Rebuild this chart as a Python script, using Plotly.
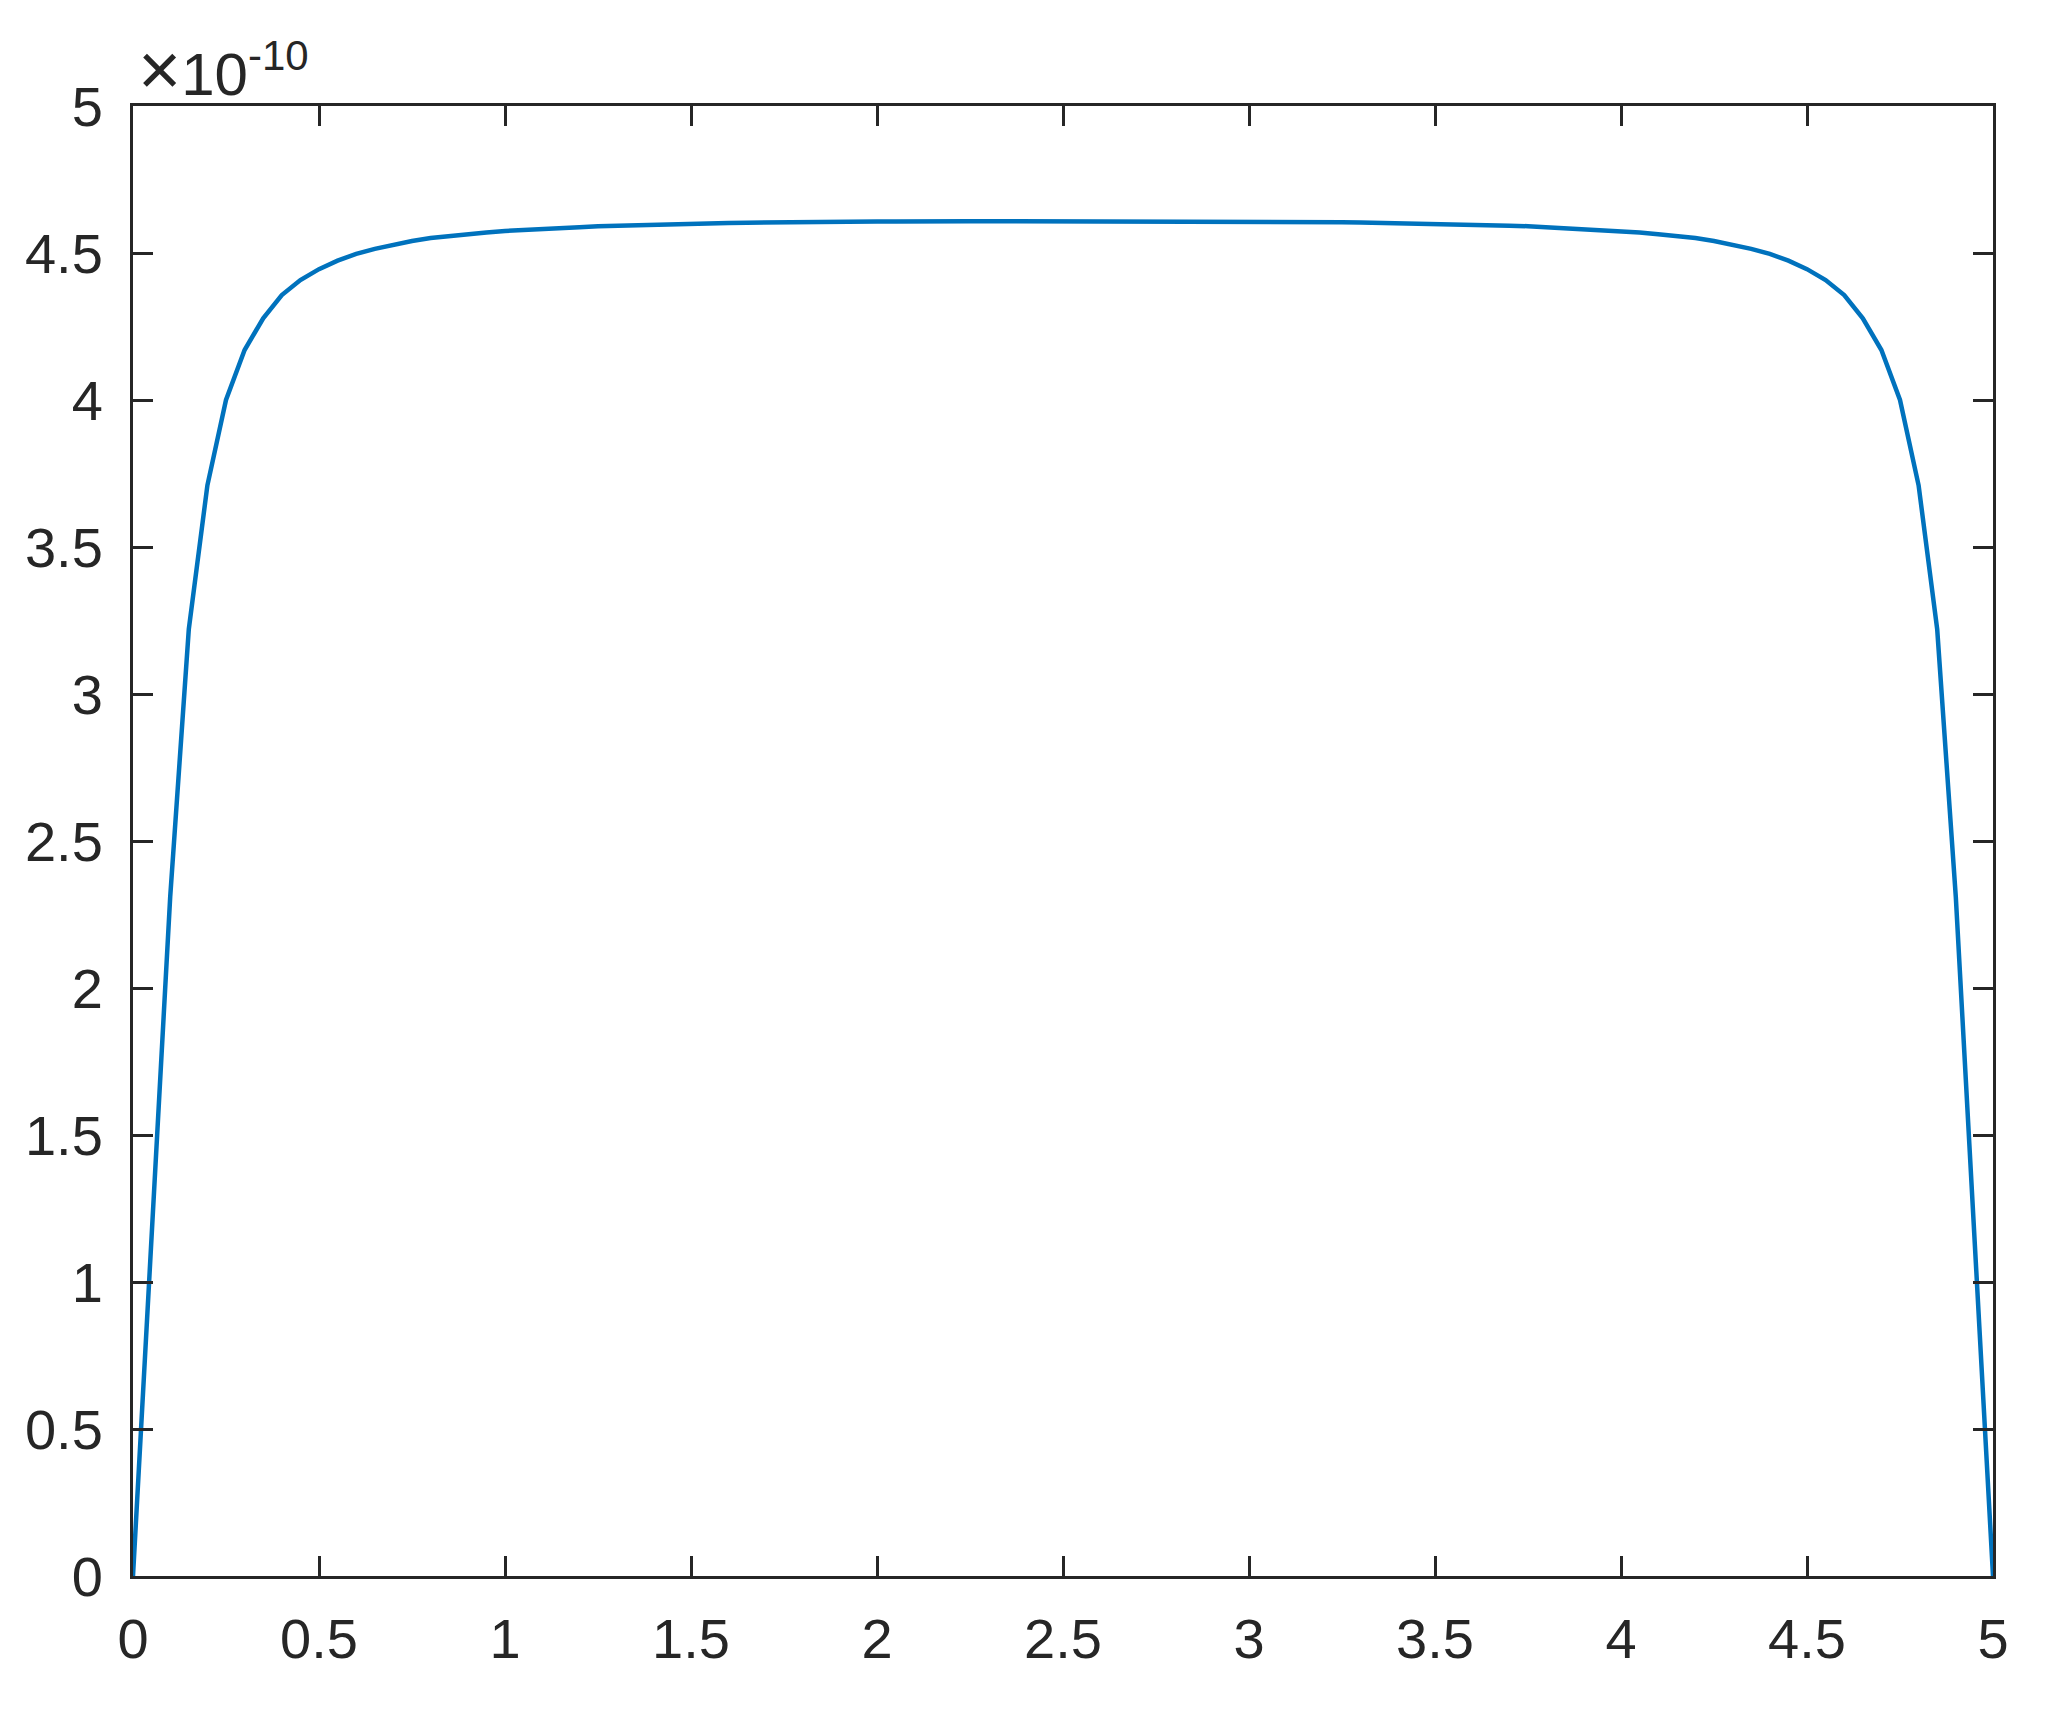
import plotly.graph_objects as go

# x sampled at 0:0.05:5
x_vals = [round(i * 0.05, 2) for i in range(101)]

# y values in units of 1e-10
y_scaled = [
    0.0, 1.15, 2.31, 3.22, 3.71, 4.00, 4.17, 4.278, 4.357, 4.408,
    4.445, 4.474, 4.497, 4.514, 4.529, 4.541, 4.551, 4.558, 4.564, 4.570,
    4.575, 4.579, 4.582, 4.585, 4.588, 4.591, 4.593, 4.595, 4.597, 4.599,
    4.600, 4.601, 4.602, 4.603, 4.604, 4.605, 4.605, 4.606, 4.606, 4.607,
    4.607, 4.607, 4.608, 4.608, 4.608, 4.608, 4.608, 4.608, 4.608, 4.608,
    4.608,
    4.608, 4.608, 4.608, 4.608, 4.608, 4.608, 4.608, 4.608, 4.607, 4.607,
    4.607, 4.606, 4.606, 4.605, 4.605, 4.604, 4.603, 4.602, 4.601, 4.600,
    4.599, 4.597, 4.595, 4.593, 4.591, 4.588, 4.585, 4.582, 4.579, 4.575,
    4.570, 4.564, 4.558, 4.551, 4.541, 4.529, 4.514, 4.497, 4.474, 4.445,
    4.408, 4.357, 4.278, 4.17, 4.00, 3.71, 3.22, 2.31, 1.15, 0.0,
]
y_scale = 1e-10

x_ticks = [0, 0.5, 1, 1.5, 2, 2.5, 3, 3.5, 4, 4.5, 5]
x_ticktext = ["0", "0.5", "1", "1.5", "2", "2.5", "3", "3.5", "4", "4.5", "5"]
y_ticks_scaled = [0, 0.5, 1, 1.5, 2, 2.5, 3, 3.5, 4, 4.5, 5]
y_ticktext = ["0", "0.5", "1", "1.5", "2", "2.5", "3", "3.5", "4", "4.5", "5"]

y_vals = [v * y_scale for v in y_scaled]

FONT = "Liberation Sans, Arial, Helvetica, sans-serif"
AX_COLOR = "#262626"

fig = go.Figure()
fig.add_trace(go.Scatter(
    x=x_vals, y=y_vals, mode="lines",
    line=dict(color="#0072BD", width=4.5),
    showlegend=False, hoverinfo="skip",
))

axis_common = dict(
    showline=True, linecolor=AX_COLOR, linewidth=3,
    mirror="allticks", ticks="inside", ticklen=20, tickwidth=3,
    tickcolor=AX_COLOR, showgrid=False, zeroline=False,
    tickfont=dict(family=FONT, size=56, color=AX_COLOR),
)

fig.update_xaxes(range=[0, 5], tickvals=x_ticks, ticktext=x_ticktext,
                 ticklabelstandoff=12, **axis_common)
fig.update_yaxes(range=[0, 5 * y_scale],
                 tickvals=[v * y_scale for v in y_ticks_scaled],
                 ticktext=y_ticktext, ticklabelstandoff=16, **axis_common)

fig.add_annotation(
    xref="paper", yref="paper", x=0.0, y=1.0,
    xanchor="left", yanchor="bottom", yshift=-7, xshift=3,
    text='<span style="font-size:74px">×</span>10<sup>-10</sup>',
    showarrow=False,
    font=dict(family=FONT, size=60, color=AX_COLOR),
)

fig.update_layout(
    width=2034, height=1707,
    margin=dict(l=125, r=49, t=98, b=139),
    paper_bgcolor="white", plot_bgcolor="white",
)

fig.write_html("out.html")
